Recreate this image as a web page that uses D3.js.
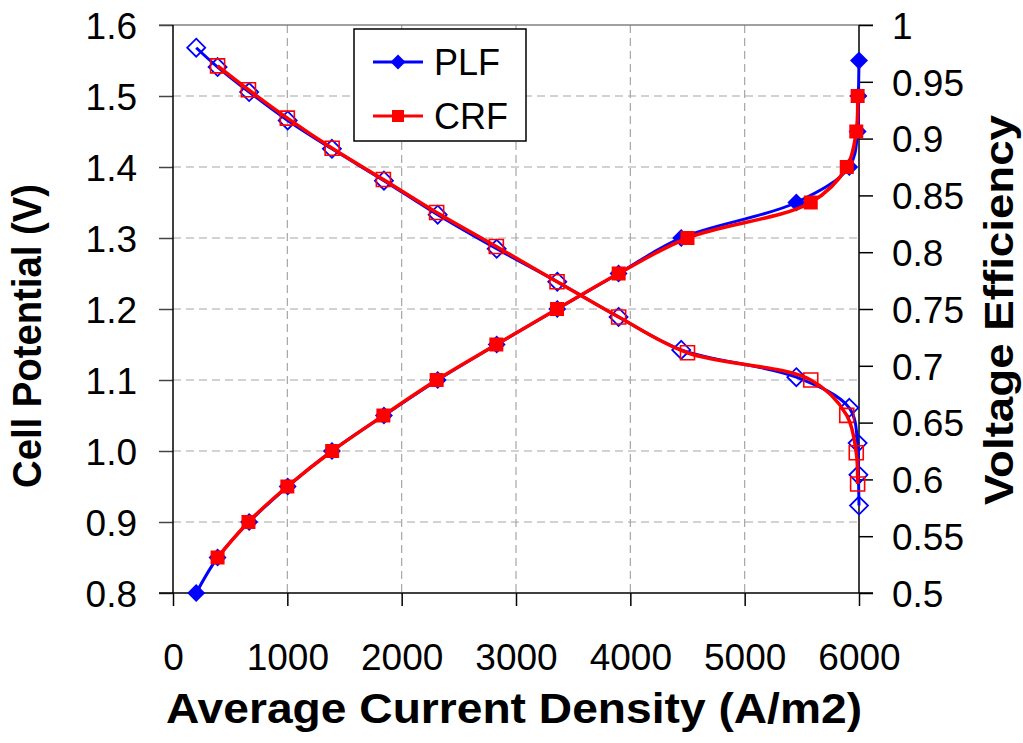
<!DOCTYPE html>
<html><head><meta charset="utf-8">
<script src="https://cdn.jsdelivr.net/npm/d3@7/dist/d3.min.js"></script>
<style>body{margin:0;background:#fff}svg{display:block}</style>
</head><body><svg id="c" width="1023" height="743"></svg>
<script>
// ---- data ----
const xTickValues = [0, 1000, 2000, 3000, 4000, 5000, 6000];
const xTickLabels = ["0", "1000", "2000", "3000", "4000", "5000", "6000"];
const leftTickValues = [0.8, 0.9, 1.0, 1.1, 1.2, 1.3, 1.4, 1.5, 1.6];
const leftTickLabels = ["0.8", "0.9", "1.0", "1.1", "1.2", "1.3", "1.4", "1.5", "1.6"];
const rightTickValues = [0.5, 0.55, 0.6, 0.65, 0.7, 0.75, 0.8, 0.85, 0.9, 0.95, 1];
const rightTickLabels = ["0.5", "0.55", "0.6", "0.65", "0.7", "0.75", "0.8", "0.85", "0.9", "0.95", "1"];

const plfCurrent    = [203, 390, 666, 1003, 1390, 1845, 2315, 2831, 3361, 3897, 4445, 5452, 5915, 5988, 5995, 6000];
const plfPotential  = [0.80, 0.85, 0.90, 0.95, 1.00, 1.05, 1.10, 1.15, 1.20, 1.25, 1.30, 1.35, 1.40, 1.45, 1.50, 1.55];
const plfEfficiency = [0.980, 0.963, 0.941, 0.916, 0.891, 0.863, 0.833, 0.803, 0.774, 0.743, 0.714, 0.690, 0.663, 0.632, 0.604, 0.577];

const crfCurrent    = [390, 660, 1000, 1392, 1840, 2306, 2828, 3359, 3898, 4500, 5578, 5893, 5976, 5988];
const crfPotential  = [0.85, 0.90, 0.95, 1.00, 1.05, 1.10, 1.15, 1.20, 1.25, 1.30, 1.35, 1.40, 1.45, 1.50];
const crfEfficiency = [0.964, 0.943, 0.918, 0.8915, 0.864, 0.835, 0.805, 0.774, 0.743, 0.7115, 0.6875, 0.6564, 0.6235, 0.596];

const seriesNames = ["PLF", "CRF"];
const seriesColors = ["#0000ff", "#ff0000"];

// ---- layout ----
const svg = d3.select("#c");
const L = 173, R = 859, T = 25, B = 593;
const x = d3.scaleLinear().domain([0, 6000]).range([L, R]);
const yL = d3.scaleLinear().domain([0.8, 1.6]).range([B, T]);
const yR = d3.scaleLinear().domain([0.5, 1.0]).range([B, T]);
const FONT = "'Liberation Sans', Arial, Helvetica, sans-serif";

// grid
const grid = svg.append("g");
grid.selectAll(".hg").data(leftTickValues.slice(1, -1)).enter().append("line")
  .attr("x1", L).attr("x2", R).attr("y1", d => yL(d)).attr("y2", d => yL(d))
  .attr("stroke", "#a6a6a6").attr("stroke-width", 1.2).attr("stroke-dasharray", "8,5");
grid.selectAll(".vg").data(xTickValues.slice(1, -1)).enter().append("line")
  .attr("y1", T).attr("y2", B).attr("x1", d => x(d)).attr("x2", d => x(d))
  .attr("stroke", "#a6a6a6").attr("stroke-width", 1.2).attr("stroke-dasharray", "8,5");

// top border
svg.append("line").attr("x1", L - 14).attr("x2", R + 14).attr("y1", T).attr("y2", T)
  .attr("stroke", "#808080").attr("stroke-width", 1.5);

// axes
const gx = svg.append("g").attr("transform", `translate(0,${B})`)
  .call(d3.axisBottom(x).tickValues(xTickValues).tickFormat((d, i) => xTickLabels[i]).tickSize(13).tickSizeOuter(0));
const gl = svg.append("g").attr("transform", `translate(${L},0)`)
  .call(d3.axisLeft(yL).tickValues(leftTickValues).tickFormat((d, i) => leftTickLabels[i]).tickSize(14).tickSizeOuter(0));
const gr = svg.append("g").attr("transform", `translate(${R},0)`)
  .call(d3.axisRight(yR).tickValues(rightTickValues).tickFormat((d, i) => rightTickLabels[i]).tickSize(14).tickSizeOuter(0));
[gx, gl, gr].forEach(g => {
  g.select(".domain").remove();
  g.selectAll("line").attr("stroke", "#000").attr("stroke-width", 1.5);
  g.selectAll("text").attr("font-family", FONT).attr("font-size", 37).attr("fill", "#000");
});
gl.selectAll("line").attr("stroke", "#444");
gx.selectAll("text").attr("y", 77).attr("dy", 0);
gl.selectAll("text").attr("x", -36).attr("dy", "0.36em");
gr.selectAll("text").attr("x", 33).attr("dy", "0.36em");

// axis lines
svg.append("line").attr("x1", L - 14).attr("x2", R + 14).attr("y1", B).attr("y2", B).attr("stroke", "#000").attr("stroke-width", 1.5);
svg.append("line").attr("x1", L).attr("x2", L).attr("y1", T).attr("y2", B).attr("stroke", "#000").attr("stroke-width", 1.5);
svg.append("line").attr("x1", R).attr("x2", R).attr("y1", T).attr("y2", B).attr("stroke", "#000").attr("stroke-width", 1.5);

// titles
svg.append("text").attr("x", 514).attr("y", 723).attr("text-anchor", "middle")
  .attr("font-family", FONT).attr("font-weight", "bold").attr("font-size", 42)
  .attr("textLength", 696).attr("lengthAdjust", "spacingAndGlyphs")
  .text("Average Current Density (A/m2)");
svg.append("text").attr("transform", "translate(41,336) rotate(-90)").attr("text-anchor", "middle")
  .attr("font-family", FONT).attr("font-weight", "bold").attr("font-size", 41)
  .attr("textLength", 304).attr("lengthAdjust", "spacingAndGlyphs")
  .text("Cell Potential (V)");
svg.append("text").attr("transform", "translate(1013,310) rotate(-90)").attr("text-anchor", "middle")
  .attr("font-family", FONT).attr("font-weight", "bold").attr("font-size", 41)
  .attr("textLength", 390).attr("lengthAdjust", "spacingAndGlyphs")
  .text("Voltage Efficiency");

// series
const diamond = r => `M0,${-r}L${r},0L0,${r}L${-r},0Z`;
const square = s => `M${-s},${-s}H${s}V${s}H${-s}Z`;
const curve = d3.curveCatmullRom.alpha(0.5);

function drawSeries(xs, ys, es, color, shape, sizeFilled, sizeHollow, lw, hollowStroke) {
  const g = svg.append("g");
  const ptsV = xs.map((d, i) => [x(d), yL(ys[i])]);
  const ptsE = xs.map((d, i) => [x(d), yR(es[i])]);
  const line = d3.line().curve(curve);
  g.append("path").attr("d", line(ptsV)).attr("fill", "none").attr("stroke", color).attr("stroke-width", lw).attr("stroke-linejoin", "round");
  g.append("path").attr("d", line(ptsE)).attr("fill", "none").attr("stroke", color).attr("stroke-width", lw).attr("stroke-linejoin", "round");
  g.selectAll(".mf").data(ptsV).enter().append("path")
    .attr("transform", d => `translate(${d[0]},${d[1]})`).attr("d", shape(sizeFilled)).attr("fill", color);
  g.selectAll(".mh").data(ptsE).enter().append("path")
    .attr("transform", d => `translate(${d[0]},${d[1]})`).attr("d", shape(sizeHollow))
    .attr("fill", "none").attr("stroke", color).attr("stroke-width", hollowStroke);
}
drawSeries(plfCurrent, plfPotential, plfEfficiency, seriesColors[0], diamond, 9, 9, 3, 1.8);
drawSeries(crfCurrent, crfPotential, crfEfficiency, seriesColors[1], square, 7, 7, 3.5, 1.6);

// legend
const lg = svg.append("g");
lg.append("rect").attr("x", 354).attr("y", 29).attr("width", 172).attr("height", 112)
  .attr("fill", "#fff").attr("stroke", "#000").attr("stroke-width", 1.5);
seriesNames.forEach((name, i) => {
  const cy = 62 + i * 54;
  lg.append("line").attr("x1", 373).attr("x2", 423).attr("y1", cy).attr("y2", cy)
    .attr("stroke", seriesColors[i]).attr("stroke-width", 3);
  lg.append("path").attr("transform", `translate(398,${cy})`)
    .attr("d", i === 0 ? diamond(7.5) : square(6)).attr("fill", seriesColors[i]);
  lg.append("text").attr("x", 434).attr("y", cy).attr("dy", "0.36em")
    .attr("font-family", FONT).attr("font-size", 36).text(name);
});
</script></body></html>
